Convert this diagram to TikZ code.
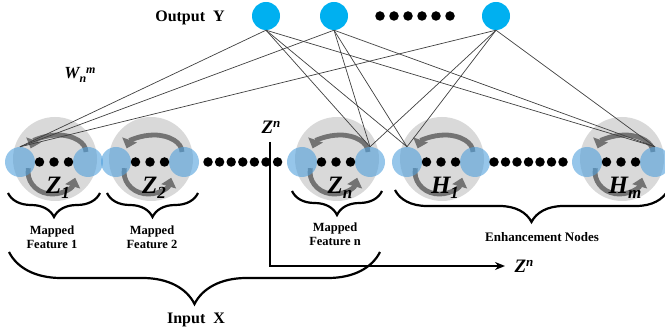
\documentclass[tikz,border=0pt]{standalone}
\usepackage{fontspec}
\setmainfont{Liberation Serif}
\usetikzlibrary{decorations.pathreplacing,arrows.meta}
\definecolor{outblue}{RGB}{0,176,240}
\definecolor{nodeblue}{RGB}{80,160,220}
\definecolor{ringgray}{RGB}{217,217,217}
\definecolor{arrgray}{RGB}{115,115,115}
\tikzset{
 outnode/.style={circle,fill=outblue,minimum size=28pt,inner sep=0pt},
 bluenode/.style={circle,fill=nodeblue,fill opacity=0.6,minimum size=30pt,inner sep=0pt},
 ring/.style={circle,fill=ringgray,minimum size=84pt,inner sep=0pt},
 bigdot/.style={circle,fill=black,minimum size=9.5pt,inner sep=0pt},
 wire/.style={draw=black!75,line width=0.7pt},
 loopar/.style={draw=arrgray,line width=4.8pt,-{Triangle[length=9pt,width=15pt]}},
 brc/.style={decorate,decoration={brace,amplitude=#1},line width=2.2pt},
 lbl/.style={font=\fontsize{12.5}{14}\selectfont\bfseries,align=center},
 biglbl/.style={font=\fontsize{16}{18}\selectfont\bfseries},
 zl/.style={font=\fontsize{25}{26}\selectfont\bfseries\itshape,inner sep=0pt},
}
\newcommand{\sublab}[2]{#1\raisebox{-5pt}{\fontsize{17}{17}\selectfont #2}}
\newcommand{\fgroup}[3]{%
 \node[ring] (#1c) at ({#2+1},159) {};
 \draw[loopar] ({#2+32},152) arc[start angle=0,end angle=-168,x radius=28,y radius=17];
 \draw[loopar] ({#2-25.6},168.2) arc[start angle=190,end angle=15,x radius=24,y radius=22];
 \node[bluenode] (#1l) at ({#2-34},162) {};
 \node[bluenode] (#1r) at ({#2+34},162) {};
 \node[bigdot] (#1d1) at ({#2-14.5},162) {};
 \node[bigdot] (#1d2) at (#2,162) {};
 \node[bigdot] (#1d3) at ({#2+14.5},162) {};
 \node[zl] (#1t) at ({#2+4},188) {#3};
}
\begin{document}
\begin{tikzpicture}[x=1pt,y=-1pt]
\useasboundingbox (0,0) rectangle (665,331);
% output layer
\node[outnode] (y1) at (266,16) {};
\node[outnode] (y2) at (334,16) {};
\node[outnode] (y3) at (496,16) {};
\foreach \i in {0,...,5}{\node[bigdot] (od\i) at ({380+14*\i},16) {};}
\node[biglbl] (outy) at (190,18) {Output\ \ Y};
\node[font=\fontsize{17}{18}\selectfont\bfseries\itshape] (wnm) at (80,75) {W\raisebox{-4pt}{\fontsize{12}{12}\selectfont n}\raisebox{5pt}{\fontsize{12}{12}\selectfont m}};
% groups
\fgroup{za}{54}{\sublab{Z}{1}}
\fgroup{zb}{150}{\sublab{Z}{2}}
\fgroup{zn}{336}{\sublab{Z}{n}}
\fgroup{ha}{441}{\sublab{H}{1}}
\fgroup{hm}{621}{\sublab{H}{m}}
\foreach \i in {0,...,6}{\node[bigdot] (md\i) at ({208+11.6*\i},162) {};}
\foreach \i in {0,...,6}{\node[bigdot] (ed\i) at ({494+11.5*\i},162) {};}
% braces
\draw[brc=24pt] (100,193) -- (8,193);
\draw[brc=24pt] (198,193) -- (107,193);
\draw[brc=24pt] (382,191) -- (292,191);
\draw[brc=32pt] (668,190) -- (395,190);
\draw[brc=52pt] (380,252) -- (9,252);
% labels
\node[lbl] (m1) at (52,237) {Mapped\\Feature 1};
\node[lbl] (m2) at (152,237) {Mapped\\Feature 2};
\node[lbl] (mn) at (335,234) {Mapped\\Feature n};
\node[lbl,font=\fontsize{13}{14}\selectfont\bfseries] (enh) at (542,237) {Enhancement Nodes};
\node[biglbl] (inx) at (196,320) {Input\ \ X};
% Z^n path
\node[font=\fontsize{19}{20}\selectfont\bfseries\itshape] (zntop) at (271,127) {Z\raisebox{6pt}{\fontsize{13}{13}\selectfont n}};
\node[font=\fontsize{19}{20}\selectfont\bfseries\itshape,anchor=west] (znend) at (511,266) {Z\raisebox{6pt}{\fontsize{13}{13}\selectfont n}};
\coordinate (zstart) at (270,142);
\draw[line width=1.8pt,-{Stealth[length=10pt,width=8pt]}] (zstart) |- ([xshift=-6pt]znend.west);
% wires
\foreach \o in {y1,y2,y3}{
 \foreach \t in {zal,znr,hal,hmr}{
  \draw[wire] (\o.south) -- (\t.north);
 }
}
\end{tikzpicture}
\end{document}
